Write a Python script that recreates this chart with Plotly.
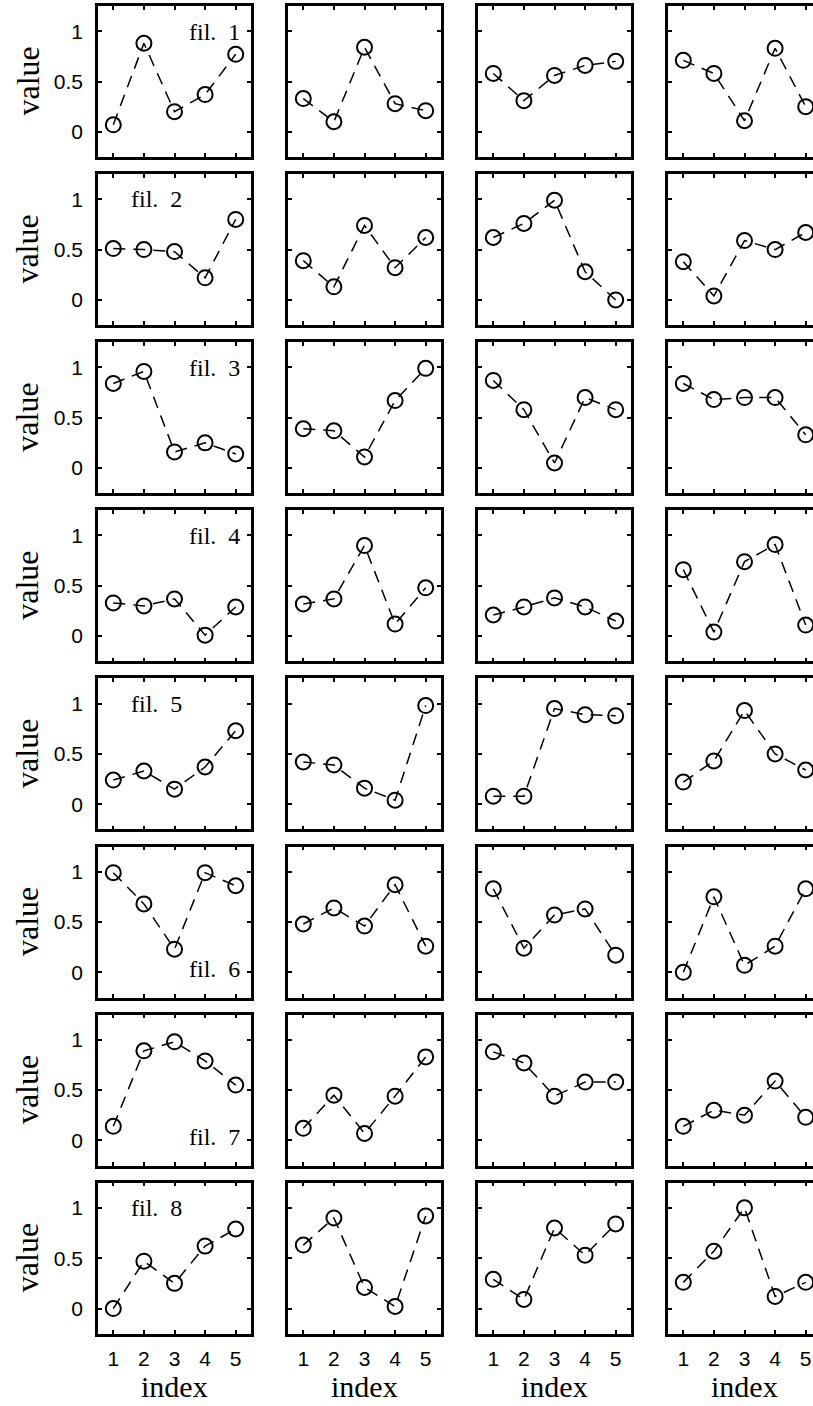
import plotly.graph_objects as go

# x positions shared by every panel
index = [1, 2, 3, 4, 5]

# values per row (fil. 1 .. fil. 8); each row holds the four panels left to right
fil_1 = [[0.07, 0.88, 0.20, 0.37, 0.77],
         [0.33, 0.10, 0.84, 0.28, 0.21],
         [0.58, 0.31, 0.56, 0.66, 0.70],
         [0.71, 0.58, 0.11, 0.83, 0.25]]
fil_2 = [[0.51, 0.50, 0.48, 0.22, 0.80],
         [0.39, 0.13, 0.74, 0.32, 0.62],
         [0.62, 0.76, 0.99, 0.28, 0.00],
         [0.38, 0.04, 0.59, 0.50, 0.67]]
fil_3 = [[0.84, 0.96, 0.16, 0.25, 0.14],
         [0.39, 0.37, 0.11, 0.67, 0.99],
         [0.87, 0.58, 0.05, 0.70, 0.58],
         [0.84, 0.68, 0.70, 0.70, 0.33]]
fil_4 = [[0.33, 0.30, 0.37, 0.01, 0.29],
         [0.32, 0.37, 0.90, 0.12, 0.48],
         [0.21, 0.29, 0.38, 0.29, 0.15],
         [0.66, 0.04, 0.74, 0.91, 0.11]]
fil_5 = [[0.24, 0.33, 0.15, 0.37, 0.73],
         [0.42, 0.39, 0.16, 0.04, 0.98],
         [0.08, 0.08, 0.95, 0.89, 0.88],
         [0.22, 0.43, 0.93, 0.50, 0.34]]
fil_6 = [[0.99, 0.68, 0.23, 0.99, 0.86],
         [0.48, 0.64, 0.46, 0.87, 0.26],
         [0.83, 0.24, 0.57, 0.63, 0.17],
         [0.00, 0.75, 0.07, 0.26, 0.83]]
fil_7 = [[0.14, 0.89, 0.98, 0.79, 0.55],
         [0.12, 0.45, 0.07, 0.44, 0.83],
         [0.88, 0.77, 0.44, 0.58, 0.58],
         [0.14, 0.30, 0.25, 0.59, 0.23]]
fil_8 = [[0.00, 0.47, 0.25, 0.62, 0.79],
         [0.63, 0.90, 0.21, 0.02, 0.92],
         [0.29, 0.09, 0.80, 0.53, 0.84],
         [0.26, 0.57, 1.00, 0.12, 0.26]]

rows = [fil_1, fil_2, fil_3, fil_4, fil_5, fil_6, fil_7, fil_8]
row_labels = ["fil.&nbsp; 1", "fil.&nbsp; 2", "fil.&nbsp; 3", "fil.&nbsp; 4",
              "fil.&nbsp; 5", "fil.&nbsp; 6", "fil.&nbsp; 7", "fil.&nbsp; 8"]
# where each row label sits inside its first panel
label_pos = ["tr", "tl", "tr", "tr", "tl", "br", "br", "tl"]

y_ticks = [0, 0.5, 1]
y_tick_text = ["0", "0.5", "1"]

# page geometry (pixels)
W, H = 813, 1406
col_left = [98, 288, 478, 668]
panel_w = 153
row_top0, row_step, panel_h = 6, 168.1, 151
x_unit = panel_w / 5.0

serif = "Liberation Serif, Times New Roman, serif"
sans = "Liberation Sans, Arial, sans-serif"

fig = go.Figure()
annotations = []

n = 0
for r, row in enumerate(rows):
    top = row_top0 + r * row_step
    bot = top + panel_h
    for c, vals in enumerate(row):
        n += 1
        sfx = "" if n == 1 else str(n)
        left = col_left[c]
        right = min(left + panel_w, W)
        x_hi = 0.5 + (right - left) / x_unit
        fig.add_trace(go.Scatter(
            x=index, y=vals, mode="lines+markers",
            line=dict(color="black", width=1.5, dash="12px,8px"),
            marker=dict(symbol="circle-open", size=15, color="black",
                        line=dict(width=2, color="black")),
            xaxis="x" + sfx, yaxis="y" + sfx, showlegend=False,
            cliponaxis=True, hoverinfo="skip"))
        last_col = (c == 3)
        fig.layout["xaxis" + sfx] = dict(
            domain=[left / W, right / W], range=[0.5, x_hi],
            anchor="y" + sfx, tickvals=index,
            ticktext=[str(i) for i in index],
            showticklabels=(r == 7), ticks="inside", ticklen=4, tickwidth=2,
            tickcolor="black", showline=True, linewidth=2.5, linecolor="black",
            mirror="allticks", showgrid=False, zeroline=False,
            ticklabelstandoff=4,
            tickfont=dict(family=sans, size=21, color="black"),
            fixedrange=True)
        fig.layout["yaxis" + sfx] = dict(
            domain=[1 - bot / H, 1 - top / H], range=[-0.25, 1.25],
            anchor="x" + sfx, tickvals=y_ticks, ticktext=y_tick_text,
            showticklabels=(c == 0), ticks="inside", ticklen=4, tickwidth=2,
            tickcolor="black", showline=True, linewidth=2.5, linecolor="black",
            mirror=(False if last_col else "allticks"),
            showgrid=False, zeroline=False, ticklabelstandoff=8,
            tickfont=dict(family=sans, size=21, color="black"),
            fixedrange=True)
        if c == 0:
            pos = label_pos[r]
            if pos == "tr":
                ax, ay, xa = 5.2, 0.99, "right"
            elif pos == "tl":
                ax, ay, xa = 1.5, 1.0, "left"
            else:
                ax, ay, xa = 5.2, 0.03, "right"
            annotations.append(dict(
                x=ax, y=ay, xref="x" + sfx, yref="y" + sfx, text=row_labels[r],
                showarrow=False, xanchor=xa, yanchor="middle",
                font=dict(family=serif, size=24, color="black")))
            annotations.append(dict(
                x=27 / W, y=1 - (top + panel_h / 2) / H, xref="paper",
                yref="paper", text="value", textangle=-90, showarrow=False,
                xanchor="center", yanchor="middle",
                font=dict(family=serif, size=32, color="black")))
        if r == 7:
            annotations.append(dict(
                x=(left + panel_w / 2) / W, y=1 - 1386 / H, xref="paper",
                yref="paper", text="index", showarrow=False,
                xanchor="center", yanchor="middle",
                font=dict(family=serif, size=30, color="black")))

fig.update_layout(
    width=W, height=H, margin=dict(l=0, r=0, t=0, b=0),
    paper_bgcolor="white", plot_bgcolor="white",
    annotations=annotations, showlegend=False)

fig.write_html("out.html", config={"displayModeBar": False})
